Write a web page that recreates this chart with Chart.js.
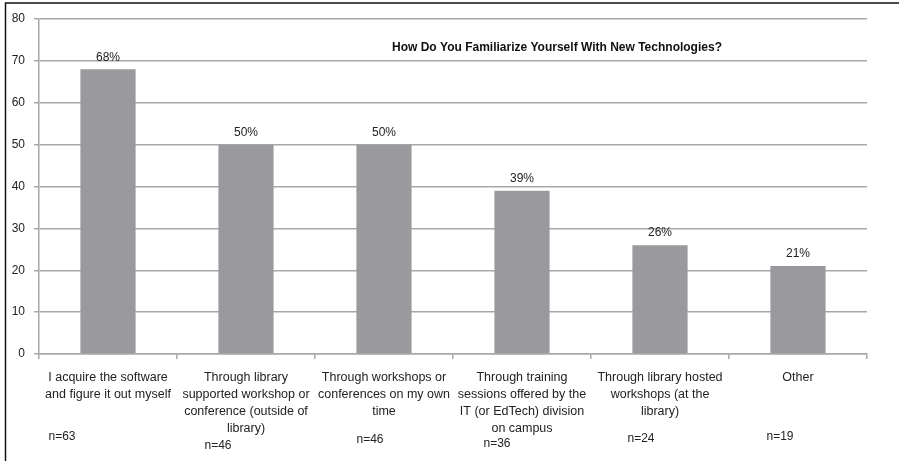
<!DOCTYPE html>
<html>
<head>
<meta charset="utf-8">
<script src="https://cdn.jsdelivr.net/npm/chart.js@4.4.0/dist/chart.umd.min.js"></script>
<style>
  html, body { margin: 0; padding: 0; background: #fff; }
  #wrap { width: 899px; height: 461px; position: relative; }
</style>
</head>
<body>
<div id="wrap"><canvas id="chart"></canvas></div>
<script>
const categories = [
  ["I acquire the software", "and figure it out myself"],
  ["Through library", "supported workshop or", "conference (outside of", "library)"],
  ["Through workshops or", "conferences on my own", "time"],
  ["Through training", "sessions offered by the", "IT (or EdTech) division", "on campus"],
  ["Through library hosted", "workshops (at the", "library)"],
  ["Other"]
];
const percents = [68, 50, 50, 39, 26, 21];
const counts = [63, 46, 46, 36, 24, 19];
const yTicks = [0, 10, 20, 30, 40, 50, 60, 70, 80];
const chartTitle = "How Do You Familiarize Yourself With New Technologies?";

const FONT = "'Liberation Sans', Arial, sans-serif";
const GRID = "#a8a8a8";

// n= labels sit at slightly different spots under each column
const nShift = [[-46, 83], [-28, 92], [-14, 86], [-25, 90], [-19, 85], [-18, 83]];

const extras = {
  id: "extras",
  beforeDraw(chart) {
    const c = chart.ctx;
    c.save();
    c.fillStyle = "#fff";
    c.fillRect(0, 0, chart.width, chart.height);
    c.strokeStyle = "#111";
    c.lineWidth = 1.5;
    c.beginPath();
    c.moveTo(chart.width, 3);
    c.lineTo(5.5, 3);
    c.lineTo(5.5, chart.height);
    c.stroke();
    c.restore();
  },
  afterDatasetsDraw(chart) {
    const c = chart.ctx;
    const meta = chart.getDatasetMeta(0);
    const xs = chart.scales.x;
    const area = chart.chartArea;
    c.save();
    c.font = "12px " + FONT;
    c.fillStyle = "#222";
    c.textAlign = "center";
    c.textBaseline = "bottom";
    meta.data.forEach((bar, i) => {
      c.fillText(percents[i] + "%", bar.x, bar.y - 6);
    });
    c.textBaseline = "middle";
    counts.forEach((n, i) => {
      const x = xs.getPixelForValue(i) + nShift[i][0];
      c.fillText("n=" + n, x, area.bottom + nShift[i][1]);
    });
    c.font = "bold 12px " + FONT;
    c.fillStyle = "#111";
    c.fillText(chartTitle, area.left + 518, area.top + 29);
    c.restore();
  }
};

new Chart(document.getElementById("chart"), {
  type: "bar",
  data: {
    labels: categories,
    datasets: [{
      data: percents,
      backgroundColor: "#9a9a9e",
      borderWidth: 0,
      categoryPercentage: 1,
      barPercentage: 0.4
    }]
  },
  options: {
    responsive: true,
    maintainAspectRatio: false,
    animation: false,
    devicePixelRatio: 1,
    layout: { padding: { top: 19, right: 32, left: 0, bottom: 0 } },
    plugins: { legend: { display: false }, tooltip: { enabled: false } },
    scales: {
      x: {
        offset: true,
        grid: { display: true, drawOnChartArea: false, drawTicks: true, tickLength: 5, offset: true, color: GRID, lineWidth: 1.5 },
        border: { color: GRID, width: 1.5 },
        ticks: {
          autoSkip: false, maxRotation: 0, minRotation: 0, padding: 10,
          color: "#222", font: { family: FONT, size: 12.5, lineHeight: 1.35 }
        },
        afterFit(s) { s.height = 107; }
      },
      y: {
        min: 0, max: 80,
        afterBuildTicks(s) { s.ticks = yTicks.map(v => ({ value: v })); },
        grid: { color: GRID, lineWidth: 1.5, tickLength: 5 },
        border: { color: GRID, width: 1.5 },
        ticks: { color: "#222", padding: 9, font: { family: FONT, size: 12 } },
        afterFit(s) { s.width = 39; }
      }
    }
  },
  plugins: [extras]
});
</script>
</body>
</html>
